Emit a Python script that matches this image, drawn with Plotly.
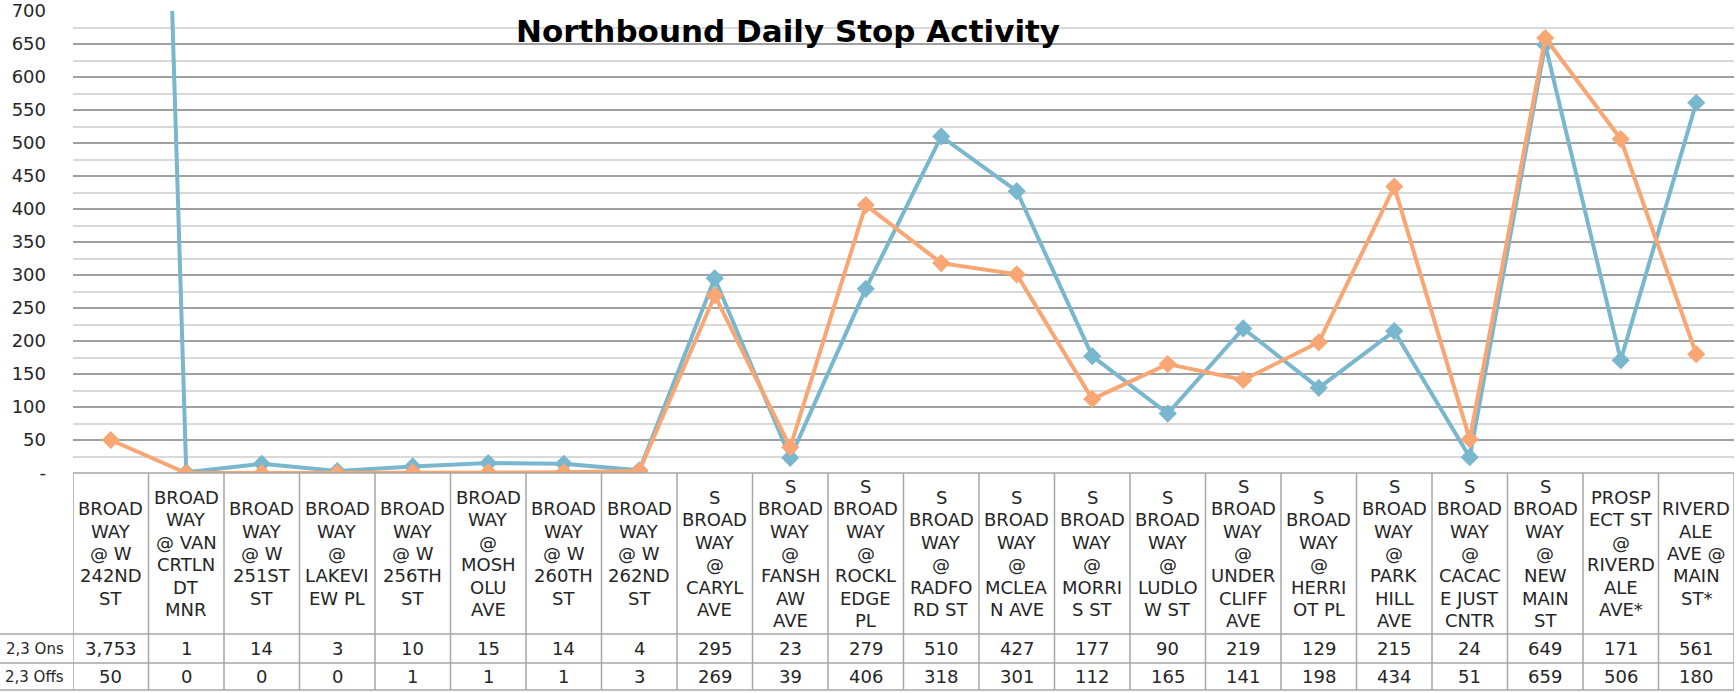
import plotly.graph_objects as go

W, H = 1736, 693

title_text = "Northbound Daily Stop Activity"
stops = [
    "BROAD<br>WAY<br>@ W<br>242ND<br>ST",
    "BROAD<br>WAY<br>@ VAN<br>CRTLN<br>DT<br>MNR",
    "BROAD<br>WAY<br>@ W<br>251ST<br>ST",
    "BROAD<br>WAY<br>@<br>LAKEVI<br>EW PL",
    "BROAD<br>WAY<br>@ W<br>256TH<br>ST",
    "BROAD<br>WAY<br>@<br>MOSH<br>OLU<br>AVE",
    "BROAD<br>WAY<br>@ W<br>260TH<br>ST",
    "BROAD<br>WAY<br>@ W<br>262ND<br>ST",
    "S<br>BROAD<br>WAY<br>@<br>CARYL<br>AVE",
    "S<br>BROAD<br>WAY<br>@<br>FANSH<br>AW<br>AVE",
    "S<br>BROAD<br>WAY<br>@<br>ROCKL<br>EDGE<br>PL",
    "S<br>BROAD<br>WAY<br>@<br>RADFO<br>RD ST",
    "S<br>BROAD<br>WAY<br>@<br>MCLEA<br>N AVE",
    "S<br>BROAD<br>WAY<br>@<br>MORRI<br>S ST",
    "S<br>BROAD<br>WAY<br>@<br>LUDLO<br>W ST",
    "S<br>BROAD<br>WAY<br>@<br>UNDER<br>CLIFF<br>AVE",
    "S<br>BROAD<br>WAY<br>@<br>HERRI<br>OT PL",
    "S<br>BROAD<br>WAY<br>@<br>PARK<br>HILL<br>AVE",
    "S<br>BROAD<br>WAY<br>@<br>CACAC<br>E JUST<br>CNTR",
    "S<br>BROAD<br>WAY<br>@<br>NEW<br>MAIN<br>ST",
    "PROSP<br>ECT ST<br>@<br>RIVERD<br>ALE<br>AVE*",
    "RIVERD<br>ALE<br>AVE @<br>MAIN<br>ST*",
]
ons = [3753, 1, 14, 3, 10, 15, 14, 4, 295, 23, 279, 510, 427, 177, 90, 219, 129, 215, 24, 649, 171, 561]
offs = [50, 0, 0, 0, 1, 1, 1, 3, 269, 39, 406, 318, 301, 112, 165, 141, 198, 434, 51, 659, 506, 180]
series_names = ["2,3 Ons", "2,3 Offs"]
y_ticks = [0, 50, 100, 150, 200, 250, 300, 350, 400, 450, 500, 550, 600, 650, 700]
y_ticktext = ["-"] + [str(v) for v in y_ticks[1:]]

FONT = "DejaVu Sans"
BLUE = "#78B7CD"
ORANGE = "#F8A673"
BORDER = "#A6A6A6"
TXT = "#262626"

def py(pix):
    return (H - pix) / H

def px(pix):
    return pix / W

n = len(stops)
xs = list(range(n))

fig = go.Figure()
fig.add_trace(go.Scatter(
    x=xs, y=ons, mode="lines+markers", name=series_names[0],
    line=dict(color=BLUE, width=4),
    marker=dict(symbol="diamond", size=14, color=BLUE),
))
fig.add_trace(go.Scatter(
    x=xs, y=offs, mode="lines+markers", name=series_names[1],
    line=dict(color=ORANGE, width=4),
    marker=dict(symbol="diamond", size=14, color=ORANGE),
))

plot_left, plot_right = 73, 1734
plot_top, plot_bottom = 11, 473
hdr_bottom, ons_bottom, tbl_bottom = 634, 663, 690
LINE_H = 22.4

fig.update_layout(
    width=W, height=H,
    margin=dict(l=0, r=0, t=0, b=0),
    paper_bgcolor="white", plot_bgcolor="white",
    showlegend=False,
    font=dict(family=FONT, color=TXT),
    xaxis=dict(
        domain=[px(plot_left), px(plot_right)],
        range=[-0.5, n - 0.5],
        showgrid=False, showticklabels=False, zeroline=False,
        showline=False, ticks="", fixedrange=True,
    ),
    yaxis=dict(
        domain=[py(plot_bottom), py(plot_top)],
        range=[0, 700],
        tickvals=y_ticks, ticktext=y_ticktext,
        tickfont=dict(family=FONT, size=18, color=TXT),
        ticklabelstandoff=26,
        showgrid=True, gridcolor="#A0A0A0", gridwidth=1.5,
        minor=dict(dtick=25, showgrid=True, gridcolor="#D9D9D9", gridwidth=1.5),
        zeroline=False, showline=False, ticks="", automargin=False,
    ),
)

shapes = []
for i in range(n + 1):
    shapes.append(dict(type="line", xref="x", yref="paper",
                       x0=i - 0.5, x1=i - 0.5, y0=py(plot_bottom), y1=py(tbl_bottom),
                       line=dict(color=BORDER, width=1.5)))
shapes.append(dict(type="line", xref="x", yref="paper", x0=-0.5, x1=n - 0.5,
                   y0=py(plot_bottom), y1=py(plot_bottom), line=dict(color=BORDER, width=1.5)))
for yy in (hdr_bottom, ons_bottom, tbl_bottom):
    shapes.append(dict(type="line", xref="paper", yref="paper", x0=0, x1=px(plot_right),
                       y0=py(yy), y1=py(yy), line=dict(color=BORDER, width=1.5)))
fig.update_layout(shapes=shapes)

ann = []
ann.append(dict(text="<b>" + title_text + "</b>", xref="paper", yref="paper",
                x=px(788), y=py(31), xanchor="center", yanchor="middle", showarrow=False,
                font=dict(family=FONT, size=31, color="black")))
hdr_center = (plot_bottom + hdr_bottom) / 2
for i, s in enumerate(stops):
    lines = s.split("<br>")
    k = len(lines)
    for j, ln in enumerate(lines):
        yy = hdr_center + (j - (k - 1) / 2) * LINE_H
        ann.append(dict(text=ln, xref="x", yref="paper", x=i, y=py(yy),
                        xanchor="center", yanchor="middle", align="center", showarrow=False,
                        font=dict(family=FONT, size=18, color=TXT)))
    ann.append(dict(text=f"{ons[i]:,}", xref="x", yref="paper", x=i,
                    y=py((hdr_bottom + ons_bottom) / 2), xanchor="center", yanchor="middle",
                    showarrow=False, font=dict(family=FONT, size=18, color=TXT)))
    ann.append(dict(text=f"{offs[i]:,}", xref="x", yref="paper", x=i,
                    y=py((ons_bottom + tbl_bottom) / 2), xanchor="center", yanchor="middle",
                    showarrow=False, font=dict(family=FONT, size=18, color=TXT)))
for name, yy in zip(series_names, [(hdr_bottom + ons_bottom) / 2, (ons_bottom + tbl_bottom) / 2]):
    ann.append(dict(text=name, xref="paper", yref="paper", x=px(66), y=py(yy),
                    xanchor="right", yanchor="middle", showarrow=False,
                    font=dict(family=FONT, size=15, color=TXT)))
fig.update_layout(annotations=ann)

fig.write_html("out.html", config={"displayModeBar": False},
               post_script="document.body.style.margin='0';document.body.style.overflow='hidden';")
